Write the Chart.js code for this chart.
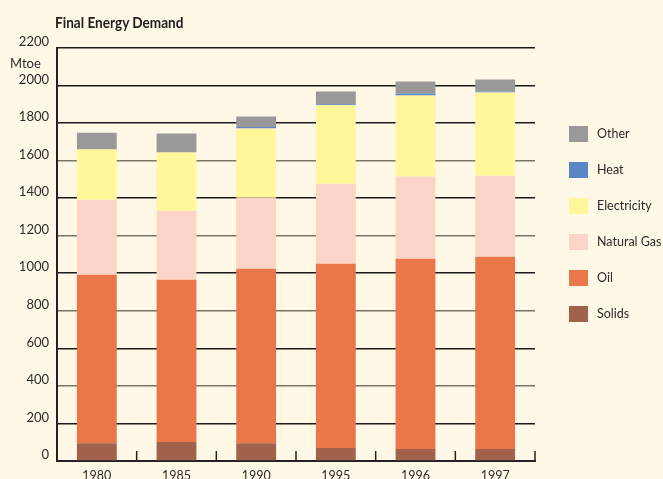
<!DOCTYPE html>
<html>
<head>
<meta charset="utf-8">
<script src="https://cdn.jsdelivr.net/npm/chart.js@4"></script>
<style>
  html, body { margin: 0; padding: 0; background: #fff8e7; }
  #wrap { position: relative; width: 663px; height: 479px; overflow: hidden; font-family: Lato, "Open Sans", sans-serif; color: #2b2b2b; }
  #title { position: absolute; left: 55px; top: 12px; font: bold 16px Lato, sans-serif; color: #1e1e1e; transform: scaleX(0.85); transform-origin: left top; white-space: nowrap; }
  #unit { position: absolute; left: 10px; top: 55px; font-size: 13px; }
  #legend { position: absolute; left: 569px; top: 126px; }
  .item { height: 36px; display: flex; align-items: flex-start; font-size: 12.5px; }
  .sw { width: 19px; height: 16px; margin-right: 9px; }
  .item span { line-height: 16px; }
</style>
</head>
<body>
<div id="wrap">
  <canvas id="c" width="663" height="479"></canvas>
  <div id="title">Final Energy Demand</div>
  <div id="unit">Mtoe</div>
  <div id="legend"></div>
</div>
<script>
/* ── 数据 (Mtoe) ── */
const years = ['1980', '1985', '1990', '1995', '1996', '1997'];
const solids      = [94, 101, 94, 69, 64, 64];
const oil         = [898, 864, 930, 982, 1013, 1024];
const naturalGas  = [400, 368, 379, 426, 438, 432];
const electricity = [267, 310, 368, 418, 432, 443];
const heat        = [0, 0, 8, 5, 10, 5];
const other       = [90, 101, 56, 68, 64, 64];
const yTicks = [0, 200, 400, 600, 800, 1000, 1200, 1400, 1600, 1800, 2000, 2200];

const series = [
    { label: 'Solids', data: solids, color: '#a0624a' },
    { label: 'Oil', data: oil, color: '#ea774a' },
    { label: 'Natural Gas', data: naturalGas, color: '#fcd5c8' },
    { label: 'Electricity', data: electricity, color: '#fff799' },
    { label: 'Heat', data: heat, color: '#5b86c5' },
    { label: 'Other', data: other, color: '#999999' },
];

/* legend, top to bottom = reverse of stacking */
const legendEl = document.getElementById('legend');
series.slice().reverse().forEach(s => {
    const row = document.createElement('div');
    row.className = 'item';
    row.innerHTML = '<div class="sw" style="background:' + s.color + '"></div><span>' + s.label + '</span>';
    legendEl.appendChild(row);
});

/* upward tick marks between categories */
const catTicks = {
    id: 'catTicks',
    afterDraw(chart) {
        const x = chart.scales.x, area = chart.chartArea, ctx = chart.ctx;
        ctx.save();
        ctx.strokeStyle = '#222';
        ctx.lineWidth = 1.5;
        for (let i = 1; i <= years.length; i++) {
            const px = i < years.length
                ? (x.getPixelForValue(i - 1) + x.getPixelForValue(i)) / 2
                : area.right;
            ctx.beginPath();
            ctx.moveTo(px, area.bottom);
            ctx.lineTo(px, area.bottom - 10);
            ctx.stroke();
        }
        ctx.restore();
    }
};

new Chart(document.getElementById('c').getContext('2d'), {
    type: 'bar',
    data: {
        labels: years,
        datasets: series.map(s => ({
            label: s.label,
            data: s.data,
            backgroundColor: s.color,
            borderWidth: 0,
            barPercentage: 0.5,
            categoryPercentage: 1,
        })),
    },
    options: {
        responsive: false,
        animation: false,
        layout: { padding: { left: 0, top: 48, right: 128, bottom: 0 } },
        plugins: { legend: { display: false }, tooltip: { enabled: false } },
        scales: {
            x: {
                stacked: true,
                grid: { display: false, drawTicks: false },
                border: { display: true, color: '#222', width: 2 },
                ticks: { color: '#2b2b2b', font: { family: 'Lato', size: 12.5 }, padding: 7 },
                afterFit(s) { s.height = 18; },
            },
            y: {
                stacked: true,
                min: 0,
                max: 2200,
                afterBuildTicks(s) { s.ticks = yTicks.map(v => ({ value: v })); },
                grid: {
                    drawTicks: false,
                    lineWidth: 1.6,
                    color: c => (c.tick && c.tick.value % 400 === 0 && c.tick.value !== 0 && c.tick.value !== 2000) ? '#7a7468' : '#1a1a1a',
                },
                border: { display: true, color: '#222', width: 2 },
                ticks: {
                    color: '#2b2b2b', font: { family: 'Lato', size: 13 }, padding: 8, labelOffset: -6,
                    callback: v => String(v),
                },
                afterFit(s) { s.width = 57; },
            },
        },
    },
    plugins: [catTicks],
});
</script>
</body>
</html>
